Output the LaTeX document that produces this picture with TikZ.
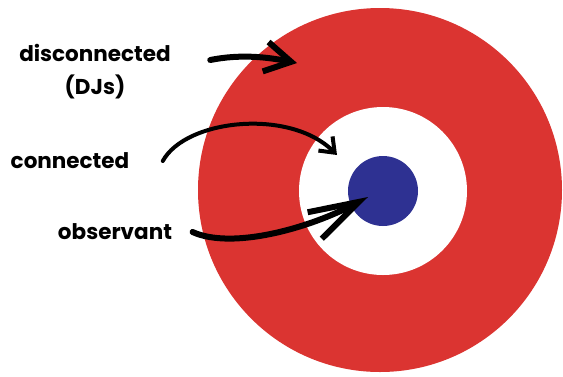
\documentclass[tikz,border=0pt]{standalone}
\usepackage{fontspec}
\setmainfont{Poppins}
\usetikzlibrary{arrows.meta}

\definecolor{ringred}{HTML}{DB3431}
\definecolor{dotblue}{HTML}{2E3192}

\begin{document}
\begin{tikzpicture}[x=1pt, y=-1pt,
    ring/.style = {circle, inner sep=0pt, outer sep=0pt},
    lbl/.style = {font=\fontsize{21.5}{33}\selectfont\bfseries, align=center},
    hand/.style = {line width=#1, line cap=round, line join=round}]
    \useasboundingbox (0,0) rectangle (563,376);

    \node[ring, fill=ringred, minimum size=364pt] (red) at (380,190) {};
    \node[ring, fill=white, minimum size=168pt] (white) at (383,191) {};
    \node[ring, fill=dotblue, minimum size=70pt] (blue) at (383,191) {};

    \node[lbl] (disc) at (95,72) {disconnected\\(DJs)};
    \node[lbl] (conn) at (70,161) {connected};
    \node[lbl] (obs) at (115,232) {observant};

    \coordinate (t1) at (297,63);
    \coordinate (t2) at (337,155);
    \coordinate (t3) at (368,197);

    \draw[hand=6pt, -{Straight Barb[length=26pt, width=30pt]}]
        ([xshift=36pt, yshift=12pt]disc.east) .. controls +(30,-6) and +(-30,-6) .. (t1);
    \draw[hand=4pt, -{Straight Barb[length=13pt, width=20pt]}]
        ([xshift=30pt]conn.east) .. controls +(23,-42) and +(-47,-47) .. (t2);
    \draw[hand=6pt, -{Straight Barb[length=50pt, width=30pt]}]
        ([xshift=17pt]obs.east) .. controls +(40,18) and +(-58,31) .. (t3);
\end{tikzpicture}
\end{document}
